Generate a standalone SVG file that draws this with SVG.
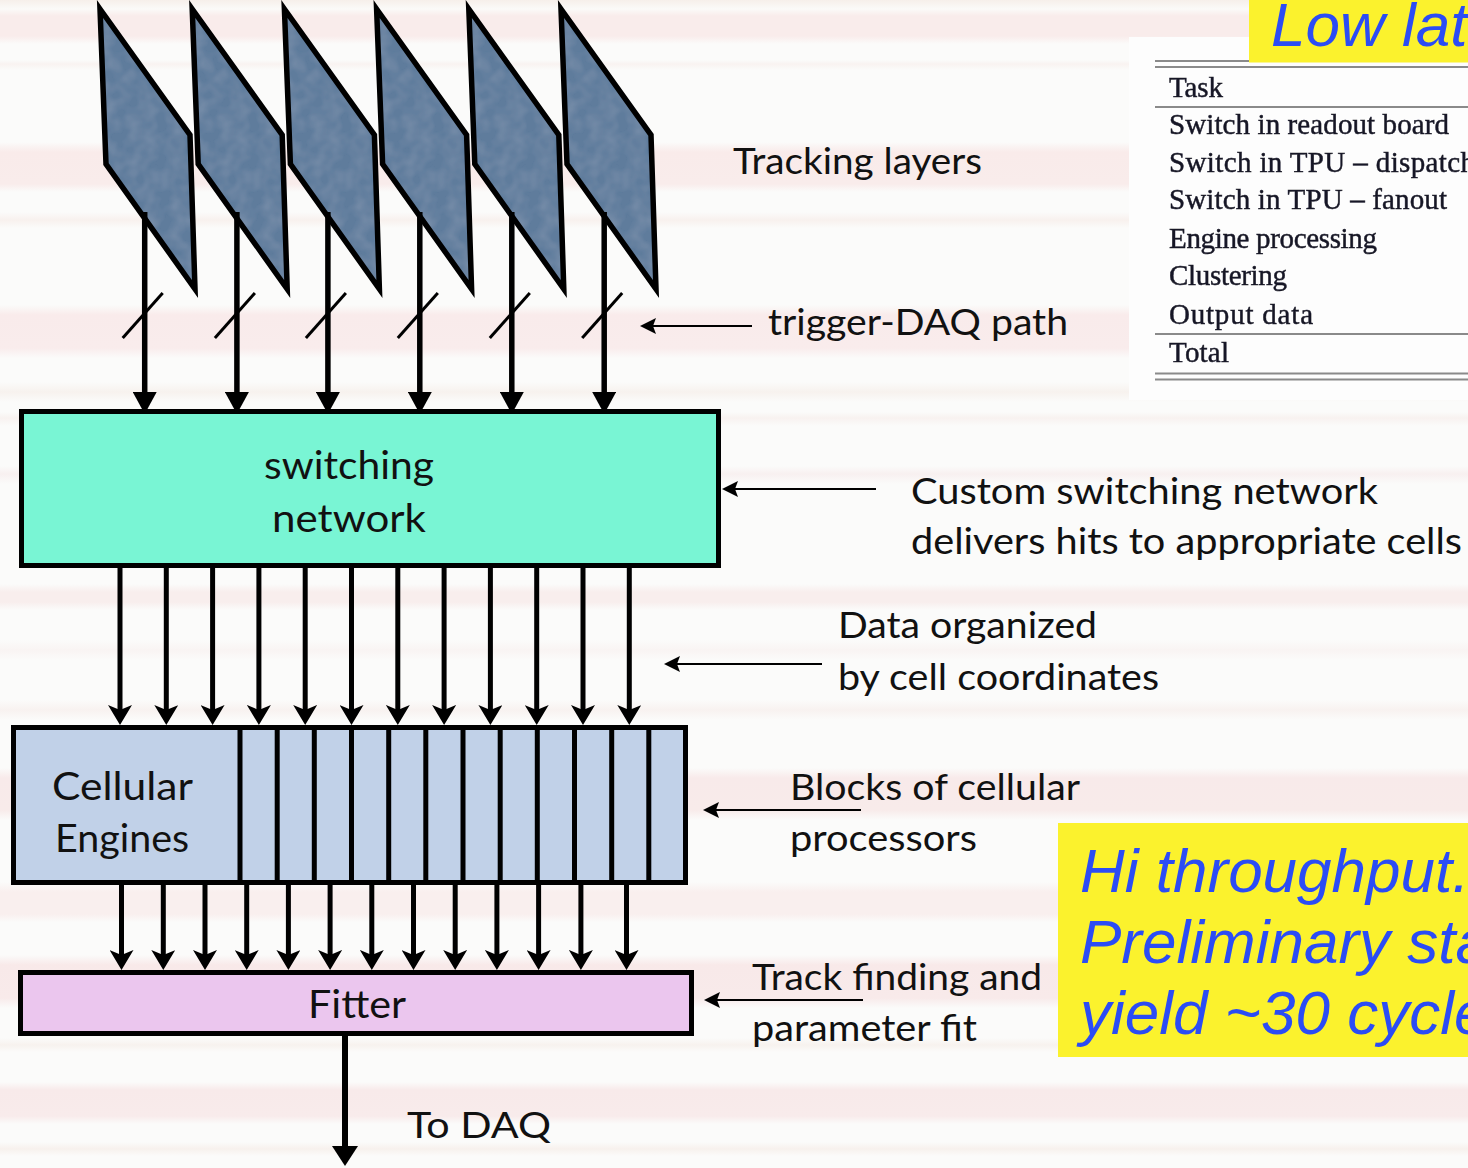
<svg xmlns="http://www.w3.org/2000/svg" width="1468" height="1168" viewBox="0 0 1468 1168">
  <style>
    .lbl { font-family: Lato, "Open Sans", "DejaVu Sans", sans-serif; font-size: 37px; fill: #111; }
    .box-lbl { font-family: Lato, "Open Sans", "DejaVu Sans", sans-serif; font-size: 39px; fill: #111; }
    .tbl { font-family: "Liberation Serif", "DejaVu Serif", serif; font-size: 29px; fill: #181826; stroke: #181826; stroke-width: 0.45; }
    .rule { stroke: #8a8a8a; stroke-width: 2; }
    .note { font-family: "Liberation Sans", Arial, sans-serif; font-style: italic; font-size: 62px; fill: #2b4cf5; }
    .wire { stroke: #000; fill: none; }
    .thick { stroke-width: 5.5; }
    .bus { stroke-width: 5; }
    .ptr { stroke-width: 2; }
    .slash { stroke-width: 3; }
    .frame { stroke: #000; stroke-width: 5; }
  </style>
  <defs>
    <!-- faint horizontal banding of the slide backdrop (offsets = y / 1168) -->
    <linearGradient id="bg" x1="0" y1="0" x2="0" y2="1">
      <stop offset="0" stop-color="#f6efea"/>
      <stop offset="0.0077" stop-color="#fbfaf8"/>
      <stop offset="0.0137" stop-color="#f9eceb"/>
      <stop offset="0.0308" stop-color="#f9eceb"/>
      <stop offset="0.0377" stop-color="#fbfbfa"/>
      <stop offset="0.0514" stop-color="#fbfbfa"/>
      <stop offset="0.0548" stop-color="#f9f3f1"/>
      <stop offset="0.0599" stop-color="#fbfbfa"/>
      <stop offset="0.1216" stop-color="#fbfbfa"/>
      <stop offset="0.1301" stop-color="#f9ebea"/>
      <stop offset="0.1575" stop-color="#f9eceb"/>
      <stop offset="0.1644" stop-color="#fbfbfa"/>
      <stop offset="0.1815" stop-color="#fbfbfa"/>
      <stop offset="0.1884" stop-color="#f8f1ee"/>
      <stop offset="0.1952" stop-color="#fbfbfa"/>
      <stop offset="0.2611" stop-color="#fbfbfa"/>
      <stop offset="0.2697" stop-color="#f9ebeb"/>
      <stop offset="0.2979" stop-color="#f9ecec"/>
      <stop offset="0.3065" stop-color="#fbfbfa"/>
      <stop offset="0.3271" stop-color="#fbfbfa"/>
      <stop offset="0.3356" stop-color="#f7f2ee"/>
      <stop offset="0.3442" stop-color="#fbfbfa"/>
      <stop offset="0.3527" stop-color="#fbfbfa"/>
      <stop offset="0.3579" stop-color="#f8f2f0"/>
      <stop offset="0.3647" stop-color="#fbfbfa"/>
      <stop offset="0.3990" stop-color="#fbfbfa"/>
      <stop offset="0.4058" stop-color="#f8f0f0"/>
      <stop offset="0.4144" stop-color="#fbfbfa"/>
      <stop offset="0.5000" stop-color="#fbfbfa"/>
      <stop offset="0.5068" stop-color="#f8eeed"/>
      <stop offset="0.5154" stop-color="#f8eeed"/>
      <stop offset="0.5223" stop-color="#fbfbfa"/>
      <stop offset="0.5479" stop-color="#fbfbfa"/>
      <stop offset="0.5565" stop-color="#f9f4f3"/>
      <stop offset="0.5651" stop-color="#fbfbfa"/>
      <stop offset="0.5993" stop-color="#fbfbfa"/>
      <stop offset="0.6079" stop-color="#f8f2f0"/>
      <stop offset="0.6164" stop-color="#fbfbfa"/>
      <stop offset="0.6575" stop-color="#fbfbfa"/>
      <stop offset="0.6661" stop-color="#f8eaea"/>
      <stop offset="0.6935" stop-color="#f8ebea"/>
      <stop offset="0.7021" stop-color="#fbfbfa"/>
      <stop offset="0.7551" stop-color="#fbfbfa"/>
      <stop offset="0.7637" stop-color="#f9efee"/>
      <stop offset="0.7825" stop-color="#f9efee"/>
      <stop offset="0.7894" stop-color="#fbfbfa"/>
      <stop offset="0.8176" stop-color="#fbfbfa"/>
      <stop offset="0.8262" stop-color="#f8e9e9"/>
      <stop offset="0.8545" stop-color="#f8eaea"/>
      <stop offset="0.8630" stop-color="#fbfbfa"/>
      <stop offset="0.8887" stop-color="#fbfbfa"/>
      <stop offset="0.8947" stop-color="#f7f2ee"/>
      <stop offset="0.9007" stop-color="#fbfbfa"/>
      <stop offset="0.9264" stop-color="#fbfbfa"/>
      <stop offset="0.9332" stop-color="#f8eaea"/>
      <stop offset="0.9555" stop-color="#f8ebeb"/>
      <stop offset="0.9623" stop-color="#fbfbfa"/>
      <stop offset="0.9777" stop-color="#fbfbfa"/>
      <stop offset="0.9837" stop-color="#f7f1ed"/>
      <stop offset="0.9897" stop-color="#fbfbfa"/>
      <stop offset="1" stop-color="#fbfbfa"/>
    </linearGradient>

    <!-- mottled slate surface for the detector layers -->
    <filter id="grain" x="0" y="0" width="1" height="1">
      <feTurbulence type="fractalNoise" baseFrequency="0.07" numOctaves="2" seed="4" result="noise"/>
      <feColorMatrix in="noise" type="matrix" values="0 0 0 0 0.50  0 0 0 0 0.58  0 0 0 0 0.68  0 0 0 0.3 -0.1" result="spots"/>
      <feComposite in="spots" in2="SourceGraphic" operator="in" result="clipped"/>
      <feMerge><feMergeNode in="SourceGraphic"/><feMergeNode in="clipped"/></feMerge>
    </filter>
    <filter id="soft" x="-5%" y="-20%" width="110%" height="140%">
      <feGaussianBlur stdDeviation="0.55"/>
    </filter>

    <marker id="head-solid" markerUnits="userSpaceOnUse" viewBox="0 0 22 24" markerWidth="22" markerHeight="24" refX="10" refY="12" orient="auto">
      <path d="M0,0 L22,12 L0,24 z" fill="#000"/>
    </marker>
    <marker id="head-notch" markerUnits="userSpaceOnUse" viewBox="0 0 20 24" markerWidth="20" markerHeight="24" refX="12" refY="12" orient="auto">
      <path d="M0,0 L20,12 L0,24 L5,12 z" fill="#000"/>
    </marker>
    <marker id="head-out" markerUnits="userSpaceOnUse" viewBox="0 0 20 26" markerWidth="20" markerHeight="26" refX="8" refY="13" orient="auto">
      <path d="M0,0 L20,13 L0,26 z" fill="#000"/>
    </marker>
    <marker id="head-ptr" markerUnits="userSpaceOnUse" viewBox="0 0 16 16" markerWidth="16" markerHeight="16" refX="8" refY="8" orient="auto">
      <path d="M0,0 L16,8 L0,16 L3,8 z" fill="#000"/>
    </marker>

    <polygon id="plate" points="100,9 190,135 195,289 106,164"/>
  </defs>

  <!-- striped backdrop -->
  <rect x="0" y="0" width="1468" height="1168" fill="url(#bg)"/>

  <!-- tracking layers -->
  <g id="layer-1">
    <use href="#plate" fill="#5f7c9c" filter="url(#grain)"/>
    <use href="#plate" fill="none" stroke="#000" stroke-width="5.5"/>
  </g>
  <g id="layer-2" transform="translate(92.2,0)">
    <use href="#plate" fill="#5f7c9c" filter="url(#grain)"/>
    <use href="#plate" fill="none" stroke="#000" stroke-width="5.5"/>
  </g>
  <g id="layer-3" transform="translate(184.4,0)">
    <use href="#plate" fill="#5f7c9c" filter="url(#grain)"/>
    <use href="#plate" fill="none" stroke="#000" stroke-width="5.5"/>
  </g>
  <g id="layer-4" transform="translate(276.6,0)">
    <use href="#plate" fill="#5f7c9c" filter="url(#grain)"/>
    <use href="#plate" fill="none" stroke="#000" stroke-width="5.5"/>
  </g>
  <g id="layer-5" transform="translate(368.8,0)">
    <use href="#plate" fill="#5f7c9c" filter="url(#grain)"/>
    <use href="#plate" fill="none" stroke="#000" stroke-width="5.5"/>
  </g>
  <g id="layer-6" transform="translate(461,0)">
    <use href="#plate" fill="#5f7c9c" filter="url(#grain)"/>
    <use href="#plate" fill="none" stroke="#000" stroke-width="5.5"/>
  </g>

  <!-- switching network -->
  <g id="switching-network">
    <rect x="21.5" y="411.5" width="697" height="154" fill="#79f5d4" class="frame"/>
    <text class="box-lbl" x="349" y="479" text-anchor="middle" textLength="170" lengthAdjust="spacingAndGlyphs">switching</text>
    <text class="box-lbl" x="349" y="532" text-anchor="middle" textLength="154" lengthAdjust="spacingAndGlyphs">network</text>
  </g>

  <!-- cellular engines: label area plus twelve cells -->
  <g id="cellular-engines">
    <rect x="13.5" y="727.5" width="672" height="155" fill="#c1d1e8" class="frame"/>
    <g class="frame">
      <line x1="240" y1="727" x2="240" y2="883"/>
      <line x1="277.2" y1="727" x2="277.2" y2="883"/>
      <line x1="314.3" y1="727" x2="314.3" y2="883"/>
      <line x1="351.5" y1="727" x2="351.5" y2="883"/>
      <line x1="388.7" y1="727" x2="388.7" y2="883"/>
      <line x1="425.8" y1="727" x2="425.8" y2="883"/>
      <line x1="463" y1="727" x2="463" y2="883"/>
      <line x1="500.2" y1="727" x2="500.2" y2="883"/>
      <line x1="537.3" y1="727" x2="537.3" y2="883"/>
      <line x1="574.5" y1="727" x2="574.5" y2="883"/>
      <line x1="611.7" y1="727" x2="611.7" y2="883"/>
      <line x1="648.8" y1="727" x2="648.8" y2="883"/>
    </g>
    <text class="box-lbl" x="52" y="800" font-size="41" textLength="141" lengthAdjust="spacingAndGlyphs">Cellular</text>
    <text class="box-lbl" x="55" y="852" font-size="41" textLength="134" lengthAdjust="spacingAndGlyphs">Engines</text>
  </g>

  <!-- fitter -->
  <g id="fitter">
    <rect x="20.5" y="972.5" width="671" height="61" fill="#ebc6ee" class="frame"/>
    <text class="box-lbl" x="357" y="1018" text-anchor="middle" textLength="98" lengthAdjust="spacingAndGlyphs">Fitter</text>
  </g>

  <!-- connectors -->
  <g id="connectors" class="wire">
    <!-- layer read-out links -->
    <g class="thick" marker-end="url(#head-solid)">
      <line x1="144.7" y1="212" x2="144.7" y2="402"/>
      <line x1="236.9" y1="212" x2="236.9" y2="402"/>
      <line x1="327.9" y1="212" x2="327.9" y2="402"/>
      <line x1="419.8" y1="212" x2="419.8" y2="402"/>
      <line x1="511.8" y1="212" x2="511.8" y2="402"/>
      <line x1="604.2" y1="212" x2="604.2" y2="402"/>
    </g>
    <!-- bus-width ticks -->
    <g class="slash">
      <line x1="122.7" y1="338" x2="162.7" y2="293"/>
      <line x1="214.9" y1="338" x2="254.9" y2="293"/>
      <line x1="305.9" y1="338" x2="345.9" y2="293"/>
      <line x1="397.8" y1="338" x2="437.8" y2="293"/>
      <line x1="489.8" y1="338" x2="529.8" y2="293"/>
      <line x1="582.2" y1="338" x2="622.2" y2="293"/>
    </g>
    <!-- switch to cells -->
    <g class="bus" marker-end="url(#head-notch)">
      <line x1="120" y1="566" x2="120" y2="717"/>
      <line x1="166.3" y1="566" x2="166.3" y2="717"/>
      <line x1="212.6" y1="566" x2="212.6" y2="717"/>
      <line x1="258.9" y1="566" x2="258.9" y2="717"/>
      <line x1="305.2" y1="566" x2="305.2" y2="717"/>
      <line x1="351.5" y1="566" x2="351.5" y2="717"/>
      <line x1="397.8" y1="566" x2="397.8" y2="717"/>
      <line x1="444.1" y1="566" x2="444.1" y2="717"/>
      <line x1="490.4" y1="566" x2="490.4" y2="717"/>
      <line x1="536.7" y1="566" x2="536.7" y2="717"/>
      <line x1="583" y1="566" x2="583" y2="717"/>
      <line x1="629.3" y1="566" x2="629.3" y2="717"/>
    </g>
    <!-- cells to fitter -->
    <g class="bus" marker-end="url(#head-notch)">
      <line x1="121.5" y1="883" x2="121.5" y2="962"/>
      <line x1="163.3" y1="883" x2="163.3" y2="962"/>
      <line x1="205" y1="883" x2="205" y2="962"/>
      <line x1="246.7" y1="883" x2="246.7" y2="962"/>
      <line x1="288.4" y1="883" x2="288.4" y2="962"/>
      <line x1="330.1" y1="883" x2="330.1" y2="962"/>
      <line x1="371.8" y1="883" x2="371.8" y2="962"/>
      <line x1="413.5" y1="883" x2="413.5" y2="962"/>
      <line x1="455.2" y1="883" x2="455.2" y2="962"/>
      <line x1="496.9" y1="883" x2="496.9" y2="962"/>
      <line x1="538.6" y1="883" x2="538.6" y2="962"/>
      <line x1="580.9" y1="883" x2="580.9" y2="962"/>
      <line x1="626.5" y1="883" x2="626.5" y2="962"/>
    </g>
    <!-- output -->
    <line x1="345" y1="1035" x2="345" y2="1154" stroke-width="6" marker-end="url(#head-out)"/>
    <!-- annotation pointers -->
    <g class="ptr" marker-end="url(#head-ptr)">
      <line x1="752" y1="326" x2="648" y2="326"/>
      <line x1="876" y1="489" x2="730" y2="489"/>
      <line x1="822" y1="664" x2="672" y2="664"/>
      <line x1="861" y1="810" x2="711" y2="810"/>
      <line x1="863" y1="1000" x2="712" y2="1000"/>
    </g>
  </g>

  <!-- annotations -->
  <g id="annotations">
    <text class="lbl" x="733" y="174" textLength="249" lengthAdjust="spacingAndGlyphs">Tracking layers</text>
    <text class="lbl" x="768" y="335" textLength="300" lengthAdjust="spacingAndGlyphs">trigger-DAQ path</text>
    <text class="lbl" x="911" y="504" textLength="467" lengthAdjust="spacingAndGlyphs">Custom switching network</text>
    <text class="lbl" x="911" y="554" textLength="551" lengthAdjust="spacingAndGlyphs">delivers hits to appropriate cells</text>
    <text class="lbl" x="838" y="638" textLength="259" lengthAdjust="spacingAndGlyphs">Data organized</text>
    <text class="lbl" x="838" y="690" textLength="321" lengthAdjust="spacingAndGlyphs">by cell coordinates</text>
    <text class="lbl" x="790" y="800" textLength="290" lengthAdjust="spacingAndGlyphs">Blocks of cellular</text>
    <text class="lbl" x="790" y="851" textLength="187" lengthAdjust="spacingAndGlyphs">processors</text>
    <text class="lbl" x="752" y="990" textLength="290" lengthAdjust="spacingAndGlyphs">Track finding and</text>
    <text class="lbl" x="752" y="1041" textLength="225" lengthAdjust="spacingAndGlyphs">parameter fit</text>
    <text class="lbl" x="407" y="1138" font-size="38" textLength="144" lengthAdjust="spacingAndGlyphs">To DAQ</text>
  </g>

  <!-- latency table -->
  <g id="latency-table">
    <rect x="1129" y="37" width="345" height="363" fill="#fdfdfd"/>
    <g class="rule" filter="url(#soft)">
      <line x1="1155" y1="61" x2="1468" y2="61"/>
      <line x1="1155" y1="67" x2="1468" y2="67"/>
      <line x1="1155" y1="107" x2="1468" y2="107"/>
      <line x1="1155" y1="334" x2="1468" y2="334"/>
      <line x1="1155" y1="373.5" x2="1468" y2="373.5"/>
      <line x1="1155" y1="379.5" x2="1468" y2="379.5"/>
    </g>
    <g filter="url(#soft)">
      <text class="tbl" x="1169" y="97" textLength="54">Task</text>
      <text class="tbl" x="1169" y="134" textLength="280">Switch in readout board</text>
      <text class="tbl" x="1169" y="172" textLength="306">Switch in TPU – dispatch</text>
      <text class="tbl" x="1169" y="209" textLength="278">Switch in TPU – fanout</text>
      <text class="tbl" x="1169" y="248" textLength="208">Engine processing</text>
      <text class="tbl" x="1169" y="285" textLength="118">Clustering</text>
      <text class="tbl" x="1169" y="324" textLength="144">Output data</text>
      <text class="tbl" x="1169" y="362" textLength="60">Total</text>
    </g>
  </g>

  <!-- highlighted notes -->
  <g id="note-latency">
    <rect x="1249" y="0" width="219" height="62.5" fill="#fbf22d"/>
    <text class="note" x="1271" y="46" font-size="61">Low lat</text>
  </g>
  <g id="note-throughput">
    <rect x="1058" y="823" width="410" height="234" fill="#fbf22d"/>
    <text class="note" x="1080" y="892">Hi throughput.</text>
    <text class="note" x="1080" y="963">Preliminary sta</text>
    <text class="note" x="1080" y="1034">yield ~30 cycle</text>
  </g>
</svg>
